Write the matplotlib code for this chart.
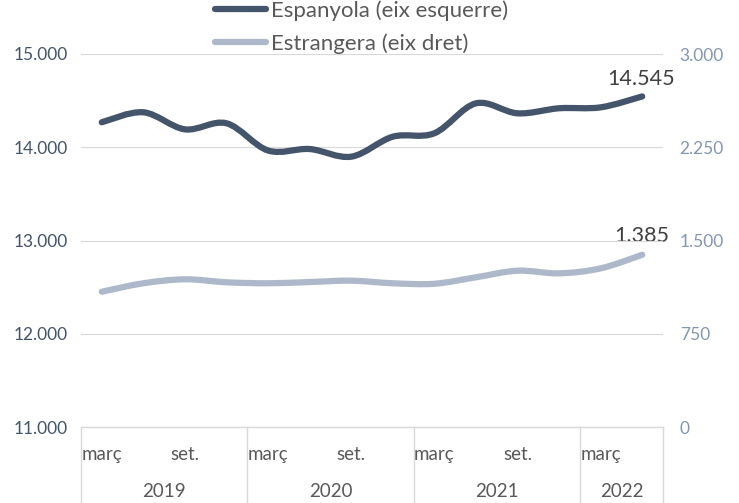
import numpy as np
import matplotlib.pyplot as plt
from matplotlib.path import Path
from matplotlib.patches import PathPatch
from matplotlib.lines import Line2D
from matplotlib.ticker import FuncFormatter

plt.rcParams['font.family'] = ['Lato', 'DejaVu Sans']

# quarterly data, 2019 Q1 .. 2022 Q2
espanyola = [14268, 14375, 14192, 14257, 13965, 13981, 13899, 14113,
             14150, 14471, 14364, 14418, 14428, 14545]
estrangera = [1088, 1156, 1188, 1164, 1156, 1166, 1177, 1156,
              1152, 1204, 1257, 1236, 1276, 1385]
month_labels = ['març', '', 'set.', ''] * 3 + ['març', '']
years = ['2019', '2020', '2021', '2022']
year_quarters = [4, 4, 4, 2]

dark = '#44546A'
light = '#ADB9CA'
right_col = '#8497B0'
txt = '#595959'
grid_col = '#D9D9D9'


def smooth_path(xs, ys):
    # bezier path through every point (Excel-style smoothed line)
    pts = np.column_stack([xs, ys]).astype(float)
    n = len(pts)
    verts = [pts[0]]
    codes = [Path.MOVETO]
    for i in range(n - 1):
        p0 = pts[i - 1] if i > 0 else pts[i]
        p1 = pts[i]
        p2 = pts[i + 1]
        p3 = pts[i + 2] if i + 2 < n else pts[i + 1]
        c1 = p1 + (p2 - p0) / 6
        c2 = p2 - (p3 - p1) / 6
        verts += [c1, c2, p2]
        codes += [Path.CURVE4] * 3
    return Path(verts, codes)


fig = plt.figure(figsize=(7.39, 5.03), dpi=100)
ax = fig.add_axes([81 / 739, 76 / 503, 582 / 739, 373 / 503])
ax2 = ax.twinx()

n = len(espanyola)
x = np.arange(n) + 0.5

ax.set_xlim(0, n)
ax.set_ylim(11000, 15000)
ax2.set_ylim(0, 3000)
ax.set_yticks([11000, 12000, 13000, 14000, 15000])
ax2.set_yticks([0, 750, 1500, 2250, 3000])

fmt = FuncFormatter(lambda v, p: f'{int(v):,}'.replace(',', '.'))
ax.yaxis.set_major_formatter(fmt)
ax2.yaxis.set_major_formatter(fmt)

for a in (ax, ax2):
    for s in a.spines.values():
        s.set_visible(False)
ax.tick_params(axis='y', length=0, pad=9.5, labelsize=12.5, labelcolor='#44546A')
ax2.tick_params(axis='y', length=0, pad=12, labelsize=12.5, labelcolor=right_col)
ax.set_xticks([])

ax.grid(axis='y', color=grid_col, linewidth=0.8)
ax.set_axisbelow(True)

ax2.add_patch(PathPatch(smooth_path(x, estrangera), fill=False, edgecolor=light,
                        linewidth=4.5, capstyle='round', joinstyle='round'))
ax.add_patch(PathPatch(smooth_path(x, espanyola), fill=False, edgecolor=dark,
                       linewidth=4.5, capstyle='round', joinstyle='round', zorder=5))
ax.set_zorder(ax2.get_zorder() + 1)
ax.patch.set_visible(False)

ax.annotate(f'{espanyola[-1]:,}'.replace(',', '.'), (x[-1], espanyola[-1]),
            xytext=(-1, 5), textcoords='offset points', ha='center', va='bottom',
            fontsize=15.5, color='#404040')
ax2.annotate(f'{estrangera[-1]:,}'.replace(',', '.'), (x[-1], estrangera[-1]),
             xytext=(0, 6), textcoords='offset points', ha='center', va='bottom',
             fontsize=15.5, color='#404040')

# multi-level category axis
tr = ax.get_xaxis_transform()
ax.plot([0, n], [0, 0], color=grid_col, linewidth=1, transform=tr, clip_on=False)
bounds = np.concatenate([[0], np.cumsum(year_quarters)])
for b in bounds:
    ax.plot([b, b], [0, -0.21], color=grid_col, linewidth=1, transform=tr, clip_on=False)
for i, lab in enumerate(month_labels):
    if lab:
        ax.text(x[i], -0.075, lab, transform=tr, ha='center', va='center',
                fontsize=13.5, color=txt)
for k, yr in enumerate(years):
    ax.text((bounds[k] + bounds[k + 1]) / 2, -0.172, yr, transform=tr,
            ha='center', va='center', fontsize=13.5, color=txt)

handles = [Line2D([], [], color=dark, linewidth=4.5, solid_capstyle='round'),
           Line2D([], [], color=light, linewidth=4.5, solid_capstyle='round')]
fig.legend(handles, ['Espanyola (eix esquerre)', 'Estrangera (eix dret)'],
           loc='upper left', bbox_to_anchor=(204 / 739, 1.021), frameon=False,
           fontsize=16, labelcolor=txt, handlelength=2.3, handletextpad=0.2,
           labelspacing=0.55, borderpad=0)

fig.savefig('out.png', dpi=100)
